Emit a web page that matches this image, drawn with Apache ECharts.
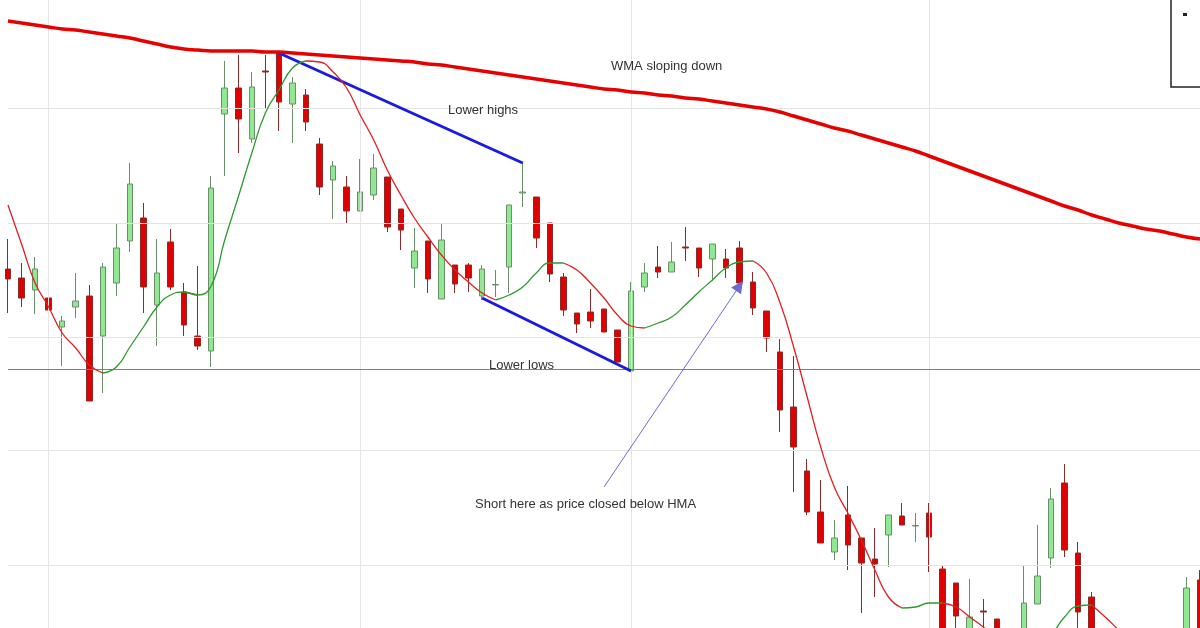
<!DOCTYPE html>
<html><head><meta charset="utf-8">
<script src="https://cdn.jsdelivr.net/npm/echarts@6/dist/echarts.min.js"></script>
<style>html,body{margin:0;padding:0;background:#fff}#c{width:1200px;height:628px}</style>
</head><body><div id="c"></div>
<script>
// candles: [open, close, low, high]
const candles = [
[359,349,315,389],[350,330,321,365],[338,359,314,371],[330,318,315,397],[301,307,262,312],
[321,327,310,355],[332,227,227,343],[292,361,235,365],[345,380,332,405],[387,444,376,465],
[410,341,315,425],[323,355,282,389],[386,341,338,399],[336,303,292,345],[292,282,278,362],
[277,440,261,452],[514,540,452,567],[540,509,475,573],[489,541,485,556],[557,556,520,573],
[575,526,497,575],[524,545,485,551],[533,506,497,539],[484,441,433,490],[448,462,409,467],
[441,417,405,452],[417,436,417,469],[433,460,428,474],[451,401,396,451],[419,398,378,419],
[360,377,340,400],[387,349,335,387],[329,388,329,405],[363,344,335,363],[363,350,336,365],
[332,359,328,363],[343,343.5,331,358],[361,423,335,423],[435,436,421,465],[431,390,380,431],
[405,354,346,405],[351,318,312,355],[315,304,295,315],[316,307,300,339],[319,296,296,319],
[298,266,266,298],[257,337,257,346],[341,355,336,365],[361,356,350,382],[356,366,356,386],
[381,380,367,401],[380,360,351,380],[369,384,347,384],[369,360,350,379],[380,345,336,387],
[346,320,313,356],[317,290,276,317],[276,218,196,289],[221,181,136,272],[157,116,113,169],
[116,85,85,148],[76,90,68,108],[113,83,58,142],[90,65,15,90],[69,64,31,100],
[93,113,61,113],[112,103,103,125],[102,102.5,86,115],[115,91,56,125],[59,-17,-22,63],
[45,12,-12,45],[-17,11,-22,49],[17,16,1,29],[9,-12,-22,9],[-22,-32,-42,-12],
[-12,25,-17,63],[24,52,24,103],[70,129,60,140],[145,78,71,164],[75,16,0,86],
[31,-12,-17,36],[-30,-40,-50,-20],[-40,-35,-55,-25],[-35,-45,-60,-30],[-45,-50,-65,-35],
[-50,-40,-60,-30],[-40,-30,-50,-20],[-12,40,-17,51],[48,-12,-17,58]
];
const hma = [423,384,345,321,295,280,263,255,261,281,301,321,333,336,333,342,388,431,475,515,
538,560,567,566,556,540,513,488,458,433,410,391,373,358,346,335,328,333,341,355,
365,365,358,345,330,313,302,300,305,311,323,336,348,360,366,367,355,325,281,231,
181,141,115,88,58,31,20,21,25,25,21,11,1,-10,-20,-22,-17,-7,11,22,
23,11,-2,-15,-25,-30,-30,-25,-20];
const wma = [607,605,603,601,599,598,596,594,592,590,587,584,581,579,578,577,577,577,577,576,
576,575,574,573,572,571,570,569,568,567,566,564,563,561,559,557,555,553,551,549,
547,545,543,541,539,538,536,535,533,532,530,529,527,525,523,521,519,516,512,508,
504,500,497,493,489,485,481,477,472,467,462,457,452,447,442,437,432,427,422,418,
413,409,405,402,399,397,394,391,389];
const greenSegs = [[7,13],[14,22],[36,41],[47,55],[66,69],[75,80]];
const hGrid = [520,405,291,178,63];
const vGrid = [3,26,46,68];
const supportLevel = 259;
const upperTrend = [[20,575],[38,465]];
const lowerTrend = [[35,330],[46,257]];
const arrow = [[44,141],[54,342]];
const cats = candles.map((_, i) => String(i));

function segSeries(isGreen){
  return hma.map((v,i)=>{
    const inG = greenSegs.some(([a,b])=>i>=a&&i<=b);
    const strictlyG = greenSegs.some(([a,b])=>i>a&&i<b);
    if(isGreen) return inG ? v : null;
    return strictlyG ? null : v;
  });
}
const chart = echarts.init(document.getElementById('c'));
const txt = (x,y,t)=>({type:'text',left:x,top:y,z:100,style:{text:t,fill:'#333',font:'13px "Liberation Sans", Arial, sans-serif'}});
chart.setOption({
  animation:false,
  grid:{left:8,right:0,top:0,bottom:0,containLabel:false},
  xAxis:{type:'category',data:cats,boundaryGap:false,axisLine:{show:false},axisTick:{show:false},axisLabel:{show:false},splitLine:{show:false}},
  yAxis:{type:'value',min:0,max:628,axisLine:{show:false},axisTick:{show:false},axisLabel:{show:false},splitLine:{show:false}},
  series:[
    {type:'line',data:[],silent:true,
     markLine:{symbol:'none',silent:true,label:{show:false},lineStyle:{color:'#e4e4e4',type:'solid',width:1},
       data:[...hGrid.map(v=>({yAxis:v})),...vGrid.map(v=>({xAxis:String(v)}))]}},
    {type:'line',data:[],silent:true,z:3,
     markLine:{symbol:'none',silent:true,label:{show:false},
       data:[{yAxis:supportLevel,lineStyle:{color:'#7878c8',type:'solid',width:1}}]}},
    {type:'candlestick',data:candles,barWidth:6,clip:false,
     itemStyle:{color:'#90e890',color0:'#e00000',borderColor:'#6a8f6a',borderColor0:'#8a2a2a',borderWidth:1}},
    {type:'line',data:wma,symbol:'none',smooth:true,clip:false,lineStyle:{color:'#e60000',width:3.5},z:5},
    {type:'line',data:segSeries(false),symbol:'none',smooth:true,clip:false,connectNulls:false,lineStyle:{color:'#e02020',width:1.3},z:6},
    {type:'line',data:segSeries(true),symbol:'none',smooth:true,clip:false,connectNulls:false,lineStyle:{color:'#2e9a2e',width:1.3},z:6},
    {type:'line',data:[],silent:true,z:7,
     markLine:{symbol:'none',silent:true,label:{show:false},
       data:[
        [{coord:[String(upperTrend[0][0]),upperTrend[0][1]],lineStyle:{color:'#1a1ae0',width:3,type:'solid'}},{coord:[String(upperTrend[1][0]),upperTrend[1][1]]}],
        [{coord:[String(lowerTrend[0][0]),lowerTrend[0][1]],lineStyle:{color:'#1a1ae0',width:3,type:'solid'}},{coord:[String(lowerTrend[1][0]),lowerTrend[1][1]]}]
       ]}},
    {type:'line',data:[],silent:true,z:8,
     markLine:{symbol:['none','triangle'],symbolSize:12,silent:true,label:{show:false},
       data:[[{coord:[String(arrow[0][0]),arrow[0][1]],lineStyle:{color:'#6a6ad0',width:1,type:'solid'},itemStyle:{color:'#1010e0'}},{coord:[String(arrow[1][0]),arrow[1][1]]}]]}}
  ],
  graphic:[
    txt(611,60,'WMA sloping down'),
    txt(448,104,'Lower highs'),
    txt(489,359,'Lower lows'),
    txt(475,498,'Short here as price closed below HMA'),
    {type:'rect',z:100,shape:{x:1171,y:-2,width:40,height:89},style:{fill:'#fff',stroke:'#222',lineWidth:1.5}},
    {type:'rect',z:101,shape:{x:1183,y:13,width:4,height:3},style:{fill:'#222'}}
  ]
});
</script></body></html>
